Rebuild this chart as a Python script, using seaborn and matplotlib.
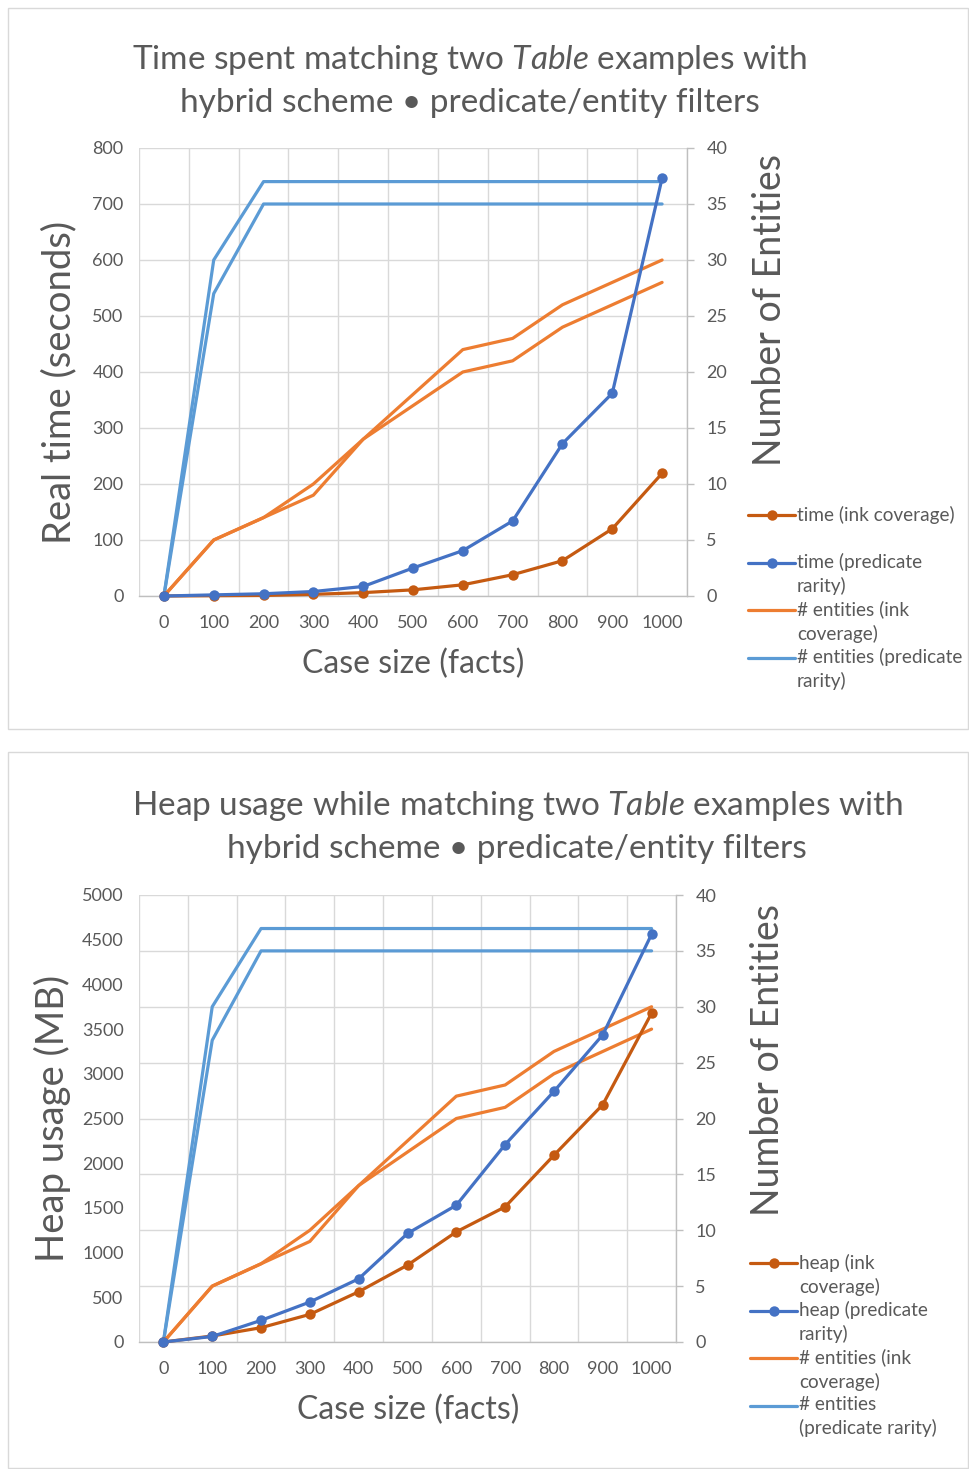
import numpy as np
import matplotlib
matplotlib.use("Agg")
import matplotlib.pyplot as plt
import seaborn as sns
from matplotlib.lines import Line2D
from matplotlib.patches import Rectangle

# ---------------- data ----------------
case_sizes = [0, 100, 200, 300, 400, 500, 600, 700, 800, 900, 1000]
x_tick_labels = [str(v) for v in case_sizes]

time_ink = [0, 0.5, 1, 3, 6, 11, 20, 38, 63, 120, 219]
time_pred = [0, 2, 4, 8, 17, 50, 81, 134, 272, 362, 746]

heap_ink = [0, 67, 160, 309, 562, 860, 1232, 1512, 2089, 2655, 3678]
heap_pred = [0, 62, 242, 447, 707, 1214, 1530, 2208, 2803, 3436, 4561]

ent_ink_a = [0, 5, 7, 10, 14, 18, 22, 23, 26, 28, 30]
ent_ink_b = [0, 5, 7, 9, 14, 17, 20, 21, 24, 26, 28]
ent_pred_a = [0, 30, 37, 37, 37, 37, 37, 37, 37, 37, 37]
ent_pred_b = [0, 27, 35, 35, 35, 35, 35, 35, 35, 35, 35]

legend_top = ["time (ink coverage)", "time (predicate\nrarity)",
              "# entities (ink\ncoverage)", "# entities (predicate\nrarity)"]
legend_bot = ["heap (ink\ncoverage)", "heap (predicate\nrarity)",
              "# entities (ink\ncoverage)", "# entities\n(predicate rarity)"]

# ---------------- style ----------------
sns.set_style("white")
plt.rcParams['font.family'] = ['Lato', 'DejaVu Sans']
plt.rcParams['mathtext.fontset'] = 'custom'
plt.rcParams['mathtext.rm'] = 'Lato'
plt.rcParams['mathtext.it'] = 'Lato:italic'

C_INK_M = '#C55A11'
C_PRED_M = '#4472C4'
C_ENT_INK = '#ED7D31'
C_ENT_PRED = '#5B9BD5'
TXT = '#595959'
GRID = '#d9d9d9'
AXC = '#bfbfbf'

TICK_FS = 13
LEG_FS = 13.7
TITLE_FS = 24

W, H = 969, 1469
fig = plt.figure(figsize=(W / 100, H / 100), dpi=100)


def fx(x):
    return x / W


def fy(y):
    return 1 - y / H


def panel(box, pri_max, pri_step, ink_vals, pred_vals, title1, title2, tcx,
          ylab, ylab_pos, xlab_pos, rlab_pos, leg_labels, leg_y0, leg_x):
    l, t, r, b = box
    base = fig.add_axes([fx(l), fy(b), (r - l) / W, (b - t) / H])
    for vals, col in [(ent_pred_a, C_ENT_PRED), (ent_pred_b, C_ENT_PRED),
                      (ent_ink_a, C_ENT_INK), (ent_ink_b, C_ENT_INK)]:
        sns.lineplot(x=case_sizes, y=vals, ax=base, color=col, lw=2.3,
                     legend=False, clip_on=False)
    base.set_xlim(-50, 1050)
    base.set_ylim(0, 40)
    base.set_yticks(range(0, 41, 5))
    base.set_xticks(case_sizes)
    base.set_xticklabels(x_tick_labels)
    base.set_xticks(np.arange(-50, 1051, 100), minor=True)
    base.grid(axis='x', which='minor', color=GRID, lw=1.0)
    base.grid(axis='y', which='major', color=GRID, lw=1.0)
    base.grid(axis='x', which='major', visible=False)
    for s in ['top', 'left']:
        base.spines[s].set_visible(False)
    for s in ['right', 'bottom']:
        base.spines[s].set_color(AXC)
        base.spines[s].set_linewidth(1.0)

    pri = base.twinx()
    for vals, col in [(ink_vals, C_INK_M), (pred_vals, C_PRED_M)]:
        sns.lineplot(x=case_sizes, y=vals, ax=pri, color=col, lw=2.3,
                     marker='o', markersize=7.5, markeredgewidth=0,
                     legend=False, clip_on=False)
    pri.set_ylim(0, pri_max)
    pri.set_yticks(range(0, pri_max + 1, pri_step))
    pri.yaxis.tick_left()
    pri.yaxis.set_label_position('left')
    for s in pri.spines.values():
        s.set_visible(False)
    pri.tick_params(axis='y', length=0, labelsize=TICK_FS, labelcolor=TXT, pad=11)

    base.yaxis.tick_right()
    base.yaxis.set_label_position('right')
    base.tick_params(axis='y', which='major', length=5, width=1, color=AXC,
                     labelsize=TICK_FS, labelcolor=TXT, pad=9, left=False, right=True)
    base.tick_params(axis='x', which='both', length=0, labelsize=TICK_FS,
                     labelcolor=TXT, pad=14)

    # axis titles
    pri.set_ylabel(ylab, fontsize=27.5, color=TXT)
    pri.yaxis.label.set(rotation_mode='default', va='center', ha='center')
    pri.yaxis.set_label_coords((ylab_pos[0] - l) / (r - l), (b - ylab_pos[1]) / (b - t))
    base.set_xlabel("Case size (facts)", fontsize=23, color=TXT)
    base.xaxis.label.set(va='center', ha='center')
    base.xaxis.set_label_coords((xlab_pos[0] - l) / (r - l), (b - xlab_pos[1]) / (b - t))
    base.set_ylabel("Number of Entities", fontsize=27, color=TXT)
    base.yaxis.label.set(rotation_mode='default', va='center', ha='center', rotation=90)
    base.yaxis.set_label_coords((rlab_pos[0] - l) / (r - l), (b - rlab_pos[1]) / (b - t))

    # title
    fig.text(fx(tcx), fy(title1[1]), title1[0], ha='center', va='center',
             fontsize=TITLE_FS, color=TXT)
    fig.text(fx(tcx), fy(title2[1]), title2[0], ha='center', va='center',
             fontsize=TITLE_FS, color=TXT)

    # legend (Excel-style: key aligned with first text line)
    styles = [(C_INK_M, 'o'), (C_PRED_M, 'o'), (C_ENT_INK, None), (C_ENT_PRED, None)]
    y = leg_y0
    for (col, mk), lab in zip(styles, leg_labels):
        x0, x1 = leg_x - 49, leg_x - 2
        ln = Line2D([fx(x0), fx((x0 + x1) / 2), fx(x1)], [fy(y)] * 3,
                    transform=fig.transFigure, color=col, lw=2.3,
                    marker=mk if mk else 'None', markevery=[1], markersize=7.5,
                    markeredgewidth=0)
        fig.add_artist(ln)
        fig.text(fx(leg_x), fy(y - 9.5), lab, ha='left', va='top', fontsize=LEG_FS,
                 color=TXT, linespacing=1.42)
        y += 47.5
    return base, pri


panel((139, 148, 687, 596), 800, 100, time_ink, time_pred,
      ("Time spent matching two $\\mathit{Table}$ examples with", 60),
      ("hybrid scheme \u2022 predicate/entity filters", 103), 470,
      "Real time (seconds)", (59, 382), (413, 664), (770, 310),
      legend_top, 515, 797)

panel((139, 895, 676, 1342), 5000, 500, heap_ink, heap_pred,
      ("Heap usage while matching two $\\mathit{Table}$ examples with", 806),
      ("hybrid scheme \u2022 predicate/entity filters", 849), 517,
      "Heap usage (MB)", (52, 1118), (408, 1410), (768, 1060),
      legend_bot, 1263, 799)

# chart frames
fig.add_artist(Rectangle((fx(8), fy(729)), (968 - 8) / W, (729 - 8) / H,
                         transform=fig.transFigure, fill=False, edgecolor=GRID, lw=1))
fig.add_artist(Rectangle((fx(8), fy(1468)), (968 - 8) / W, (1468 - 752) / H,
                         transform=fig.transFigure, fill=False, edgecolor=GRID, lw=1))

fig.savefig("out.png", dpi=100, facecolor='white')
